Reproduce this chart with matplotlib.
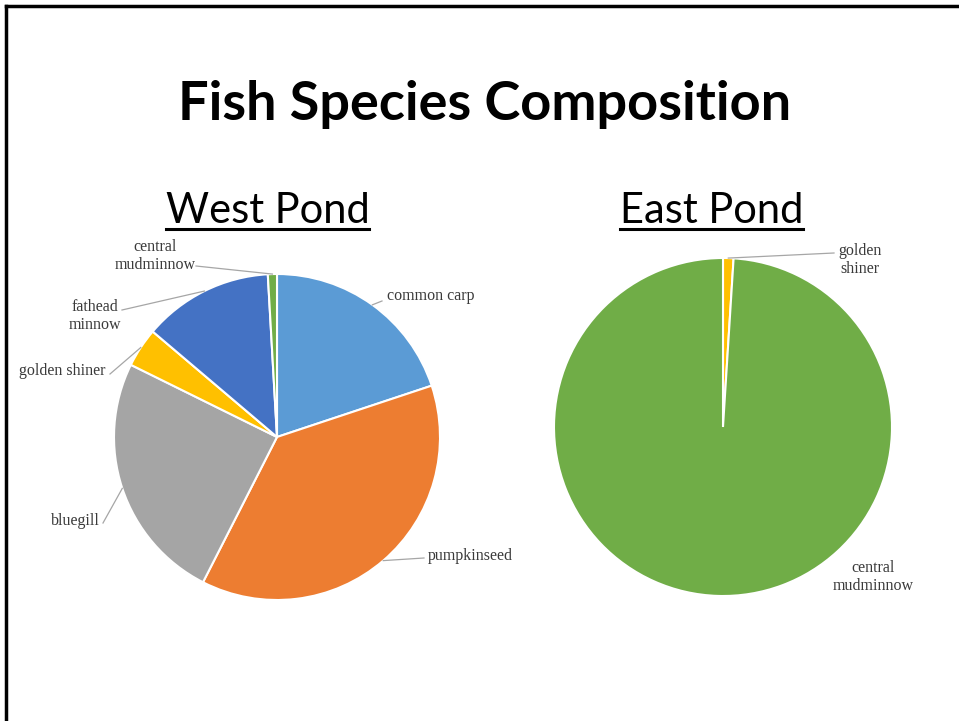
import numpy as np
import matplotlib
matplotlib.use("Agg")
import matplotlib.pyplot as plt
from matplotlib.lines import Line2D

# ---------------- data ----------------
title = "Fish Species Composition"
west_title = "West Pond"
east_title = "East Pond"

west_species = ["common carp", "pumpkinseed", "bluegill", "golden shiner",
                "fathead minnow", "central mudminnow"]
west_values = [19.9, 37.6, 24.8, 3.9, 12.9, 0.9]
west_labels = ["common carp", "pumpkinseed", "bluegill", "golden shiner",
               "fathead\nminnow", "central\nmudminnow"]

east_species = ["golden shiner", "central mudminnow"]
east_values = [1.0, 99.0]
east_labels = ["golden\nshiner", "central\nmudminnow"]

colors = {
    "common carp": "#5B9BD5",
    "pumpkinseed": "#ED7D31",
    "bluegill": "#A5A5A5",
    "golden shiner": "#FFC000",
    "fathead minnow": "#4472C4",
    "central mudminnow": "#70AD47",
}

W, H = 959, 721
DPI = 100
fig = plt.figure(figsize=(W / DPI, H / DPI), dpi=DPI)
fig.patch.set_facecolor("white")


def px_axes(cx, cy, r):
    return fig.add_axes([(cx - r) / W, (H - cy - r) / H, 2 * r / W, 2 * r / H])


def to_data(px, py, cx, cy, r):
    return ((px - cx) / r, (cy - py) / r)


label_font = dict(family="Liberation Serif", fontsize=11.5, color="#3A3A3A")
leader_color = "#A6A6A6"


def draw_pie(cx, cy, r, species, values, labels, label_pos, leaders):
    ax = px_axes(cx, cy, r)
    wedges, _ = ax.pie(values, colors=[colors[s] for s in species],
                       startangle=90, counterclock=False, radius=1.0,
                       wedgeprops=dict(edgecolor="white", linewidth=1.5))
    ax.set_xlim(-1, 1)
    ax.set_ylim(-1, 1)
    ax.set_aspect("auto")
    ax.axis("off")
    for w, lab, pos, lead in zip(wedges, labels, label_pos, leaders):
        tx, ty = to_data(pos[0], pos[1], cx, cy, r)
        ax.text(tx, ty, lab, ha=pos[2], va="center", linespacing=1.2,
                clip_on=False, **label_font)
        if lead is not None:
            mid = np.deg2rad((w.theta1 + w.theta2) / 2)
            ex, ey = np.cos(mid), np.sin(mid)
            sx, sy = to_data(lead[0], lead[1], cx, cy, r)
            ax.add_line(Line2D([sx, ex], [sy, ey], color=leader_color,
                               lw=0.9, clip_on=False))
    return ax


# West pond
west_pos = [(387, 296, "left"), (428, 556, "left"), (100, 521, "right"),
            (105, 371, "right"), (95, 316, "center"), (155, 256, "center")]
west_lead = [(382, 301), (424, 558), (103, 523), (110, 374), (122, 310), (196, 266)]
draw_pie(277, 437, 163, west_species, west_values, west_labels, west_pos, west_lead)

# East pond
east_pos = [(860, 260, "center"), (873, 577, "center")]
east_lead = [(834, 253), None]
draw_pie(723, 427, 169, east_species, east_values, east_labels, east_pos, east_lead)

# Titles
fig.text(485 / W, 1 - 120 / H, title, ha="center", va="baseline",
         family="Lato", fontweight="bold", fontsize=39, color="black")
subs = []
for txt, x in [(west_title, 267.5), (east_title, 711.5)]:
    t = fig.text(x / W, 1 - 223 / H, txt, ha="center", va="baseline",
                 family="Lato", fontsize=30, color="black")
    subs.append(t)

fig.canvas.draw()
renderer = fig.canvas.get_renderer()
for t in subs:
    bb = t.get_window_extent(renderer)
    yline = (H - 229) / H
    fig.add_artist(Line2D([bb.x0 / W, bb.x1 / W], [yline, yline],
                          color="black", lw=2.2, transform=fig.transFigure))

# Slide border (top and left)
fig.add_artist(Line2D([6 / W, 1.0], [1 - 6 / H, 1 - 6 / H], color="black",
                      lw=2.5, transform=fig.transFigure))
fig.add_artist(Line2D([6 / W, 6 / W], [0, 1 - 6 / H], color="black",
                      lw=2.5, transform=fig.transFigure))

fig.savefig("out.png", dpi=DPI)
